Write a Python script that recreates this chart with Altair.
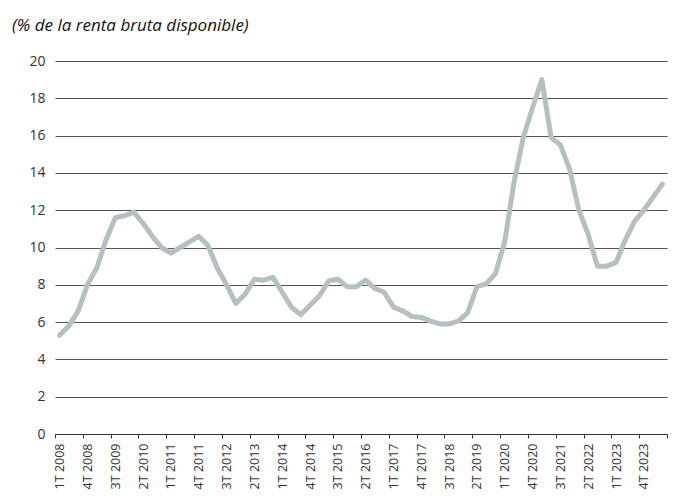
import altair as alt
import pandas as pd

# Quarterly categories: 1T 2008 ... 2T 2024
quarters = [f"{q}T {y}" for y in range(2008, 2025) for q in range(1, 5)][:66]

# Household saving rate (% of gross disposable income)
savings_rate = [
    5.3, 5.8, 6.6, 8.0, 8.9, 10.4, 11.6, 11.7, 11.9, 11.3,
    10.6, 10.0, 9.7, 10.0, 10.3, 10.6, 10.1, 8.9, 8.0, 7.0,
    7.5, 8.3, 8.25, 8.4, 7.6, 6.8, 6.4, 6.9, 7.4, 8.2,
    8.3, 7.9, 7.9, 8.25, 7.8, 7.6, 6.8, 6.6, 6.3, 6.25,
    6.05, 5.9, 5.9, 6.05, 6.5, 7.9, 8.05, 8.6, 10.3, 13.5,
    15.9, 17.5, 19.0, 15.9, 15.5, 14.2, 12.0, 10.7, 9.0, 9.0,
    9.2, 10.4, 11.4, 12.0, 12.7, 13.4,
]

# Axis tick labels (every third quarter)
tick_labels = quarters[::3][:22]
y_ticks = [0, 2, 4, 6, 8, 10, 12, 14, 16, 18, 20]

df = pd.DataFrame({
    "quarter": quarters,
    "pos": [i + 0.5 for i in range(len(quarters))],
    "value": savings_rate,
})

n = len(quarters)
boundary_vals = [i for i in range(0, n + 1, 3)]
label_vals = [i * 3 + 0.5 for i in range(len(tick_labels))]
x_values = sorted(boundary_vals + label_vals)
js_labels = "[" + ",".join(f"'{l}'" for l in tick_labels) + "]"
label_expr = f"datum.value % 3 === 0 ? '' : {js_labels}[floor(datum.value / 3)]"

FONT = "Open Sans"

line = alt.Chart(df).mark_line(
    color="#b6bfc2", strokeWidth=5, strokeJoin="round", strokeCap="round"
).encode(
    x=alt.X(
        "pos:Q",
        scale=alt.Scale(domain=[0, n], nice=False, zero=False),
        axis=alt.Axis(
            values=x_values,
            labelExpr=label_expr,
            labelAngle=270,
            labelOverlap=False,
            labelFlush=False,
            labelBound=False,
            grid=False,
            domain=True,
            domainColor="#333333",
            domainWidth=1,
            tickSize=4,
            tickColor="#333333",
            tickWidth=1,
            tickOpacity={"condition": {"test": "datum.value % 3 === 0", "value": 1}, "value": 0},
            labelPadding=5,
            labelFont=FONT,
            labelFontSize=12.5,
            labelColor="#333333",
            title=None,
        ),
    ),
    y=alt.Y(
        "value:Q",
        scale=alt.Scale(domain=[0, 20], nice=False),
        axis=alt.Axis(
            values=y_ticks,
            grid=True,
            gridColor="#555555",
            gridWidth=1,
            domain=False,
            ticks=False,
            labelPadding=10,
            labelFont=FONT,
            labelFontSize=14,
            labelColor="#333333",
            title=None,
        ),
    ),
)

chart = line.properties(
    width=612,
    height=373,
    autosize=alt.AutoSizeParams(type="none"),
    padding={"left": 47, "top": 53, "right": 8, "bottom": 59},
    title=alt.TitleParams(
        "(% de la renta bruta disponible)",
        anchor="start",
        frame="group",
        font=FONT,
        fontStyle="italic",
        fontWeight="normal",
        fontSize=17,
        color="#111111",
        dx=-43,
        offset=19,
    ),
).configure_view(stroke=None)

chart.save("out.html", embed_options={"renderer": "svg", "actions": False})
